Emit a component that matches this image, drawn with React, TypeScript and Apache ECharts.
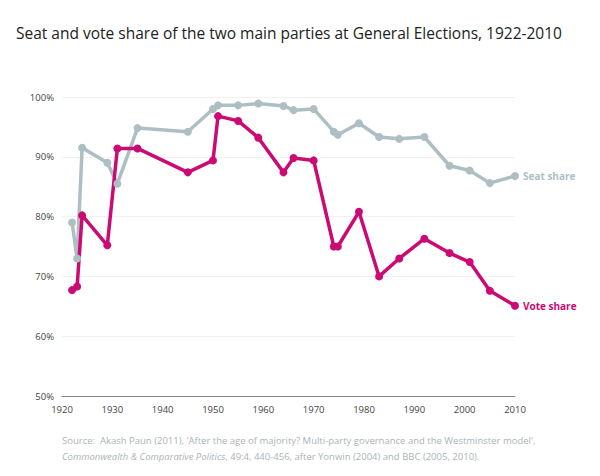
import { useEffect, useRef } from 'react';
import * as echarts from 'echarts';

const years = [1922, 1923, 1924, 1929, 1931, 1935, 1945, 1950, 1951, 1955, 1959, 1964, 1966, 1970, 1974, 1974.8, 1979, 1983, 1987, 1992, 1997, 2001, 2005, 2010];
const seatShare = [79, 73, 91.5, 89, 85.5, 94.8, 94.2, 98, 98.6, 98.6, 98.9, 98.5, 97.8, 98, 94.2, 93.7, 95.6, 93.3, 93, 93.3, 88.5, 87.7, 85.6, 86.8];
const voteShare = [67.7, 68.3, 80.2, 75.2, 91.4, 91.4, 87.4, 89.4, 96.8, 96, 93.2, 87.4, 89.8, 89.4, 75, 75, 80.8, 70, 73, 76.3, 73.9, 72.4, 67.6, 65.1];

const SEAT = '#aebfc4';
const VOTE = '#cc0a73';

const App = () => {
    const chartRef = useRef<HTMLDivElement | null>(null);

    useEffect(() => {
        if (!chartRef.current) return;
        const myChart = echarts.init(chartRef.current, null, { renderer: 'svg' });
        const mk = (name: string, vals: number[], color: string) => ({
            name,
            type: 'line',
            data: years.map((y, i) => [y, vals[i]]),
            symbol: 'circle',
            symbolSize: 8,
            lineStyle: { color, width: 3.5 },
            itemStyle: { color },
            endLabel: { show: true, formatter: name, color, fontSize: 10, fontWeight: 'bold', distance: 8 },
        });
        myChart.setOption({
            animation: false,
            textStyle: { fontFamily: 'Open Sans' },
            title: {
                text: 'Seat and vote share of the two main parties at General Elections, 1922-2010',
                left: 11, top: 20,
                textStyle: { fontSize: 15.5, fontWeight: 'normal', color: '#222' },
            },
            graphic: [
                { type: 'text', left: 62, top: 435, style: { text: "Source:  Akash Paun (2011), 'After the age of majority? Multi-party governance and the Westminster model',", fill: '#aab4b8', fontSize: 9.5, fontFamily: 'Open Sans' } },
                {
                    type: 'text', left: 62, top: 451,
                    style: {
                        text: '{i|Commonwealth & Comparative Politics}, 49:4, 440-456, after Yonwin (2004) and BBC (2005, 2010).',
                        fill: '#aab4b8', fontSize: 9.5, fontFamily: 'Open Sans',
                        rich: { i: { fontStyle: 'italic', fill: '#aab4b8', fontSize: 9.5, fontFamily: 'Open Sans' } },
                    },
                },
            ],
            grid: { left: 62, right: 85, top: 97, bottom: 80 },
            xAxis: {
                type: 'value', min: 1920, max: 2010, interval: 10,
                axisLine: { lineStyle: { color: '#888' } },
                axisTick: { show: false },
                splitLine: { show: false },
                axisLabel: { color: '#444', fontSize: 9.5, formatter: (v: number) => String(v) },
            },
            yAxis: {
                type: 'value', min: 50, max: 100, interval: 10,
                axisLine: { show: false },
                axisTick: { show: false },
                splitLine: { lineStyle: { color: '#f2f2f2' } },
                axisLabel: { color: '#444', fontSize: 9.5, formatter: '{value}%' },
            },
            series: [mk('Seat share', seatShare, SEAT), mk('Vote share', voteShare, VOTE)],
        });
        return () => myChart.dispose();
    }, []);

    return <div ref={chartRef} style={{ width: '600px', height: '476px', position: 'absolute', left: 0, top: 0 }} />;
};

export default App;
